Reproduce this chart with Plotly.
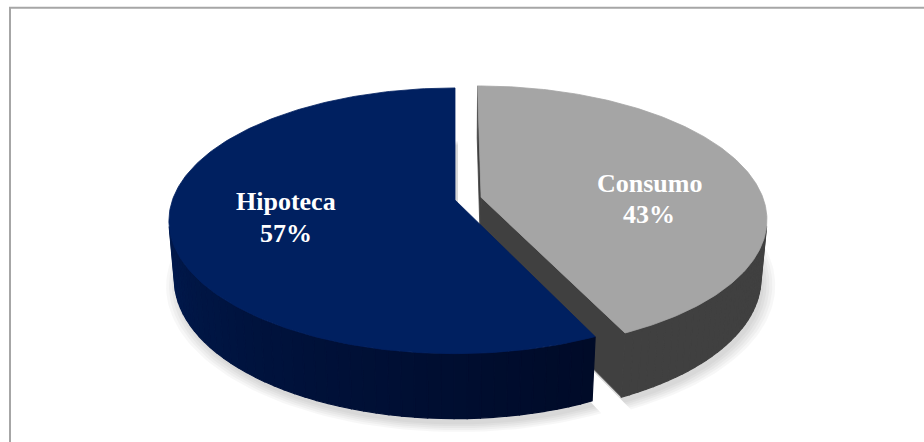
import numpy as np
import plotly.graph_objects as go

# ---- data -------------------------------------------------------------
categories = ["Consumo", "Hipoteca"]
shares = [43, 57]          # percent of total

# ---- styling ----------------------------------------------------------
TOP_COLOR = {"Consumo": "#A5A5A5", "Hipoteca": "#002060"}
SIDE_STOPS = {
    # (angle in degrees clockwise from 12 o'clock, colour) for the outer wall
    "Consumo": [(0, "#404040"), (360, "#404040")],
    "Hipoteca": [(150, "#000A26"), (215, "#00123C"), (262, "#001A4E"), (360, "#001A4E")],
}
CUT_COLOR = {"Consumo": "#404040", "Hipoteca": "#000A26"}
EXPLODE = {"Consumo": 0.095, "Hipoteca": 0.0}
LABEL_AT = {"Consumo": (649, 183, 214), "Hipoteca": (286, 201, 233)}  # x, name line, value line

W, H = 924, 442
CX, CY = 455, 200            # screen position of the pie centre
FOCAL = 1605                 # perspective focal length (px)
DIST = 5.68                  # camera distance in pie radii
ELEV = np.radians(27.3)      # camera elevation
THICK = 0.235                # pie height in pie radii
SA, CA = np.sin(ELEV), np.cos(ELEV)


def project(X, Y, Z):
    """Perspective projection of world points (X right, Y up, Z toward viewer)."""
    X, Y, Z = np.asarray(X, float), np.asarray(Y, float), np.asarray(Z, float)
    depth = DIST - Y * SA - Z * CA
    return CX + FOCAL * X / depth, CY - FOCAL * (Y * CA - Z * SA) / depth


def hex_rgb(h):
    h = h.lstrip("#")
    return np.array([int(h[i:i + 2], 16) for i in (0, 2, 4)], float)


def side_colour(name, deg):
    stops = SIDE_STOPS[name]
    for (a0, c0), (a1, c1) in zip(stops[:-1], stops[1:]):
        if a0 <= deg <= a1:
            t = 0 if a1 == a0 else (deg - a0) / (a1 - a0)
            c = hex_rgb(c0) * (1 - t) + hex_rgb(c1) * t
            return "rgb(%d,%d,%d)" % tuple(np.round(c))
    return stops[-1][1]


def poly(xs, ys, colour, width=1.0, line=None):
    return go.Scatter(
        x=list(xs) + [xs[0]], y=list(ys) + [ys[0]], mode="lines", fill="toself",
        fillcolor=colour, line=dict(color=line or colour, width=width),
        hoverinfo="skip", showlegend=False,
    )


# slice angles: clockwise from 12 o'clock
total = float(sum(shares))
bounds = np.concatenate([[0], np.cumsum(shares) / total * 360.0])
slices = []
for i, name in enumerate(categories):
    t0, t1 = np.radians(bounds[i]), np.radians(bounds[i + 1])
    mid = 0.5 * (t0 + t1)
    off = np.array([np.sin(mid), 0.0, -np.cos(mid)]) * EXPLODE[name]
    slices.append(dict(name=name, t0=t0, t1=t1, mid=mid, off=off, share=shares[i]))

cam = np.array([0.0, DIST * SA, DIST * CA])


def facing(point, normal):
    return np.dot(cam - point, normal) > 0


# draw farther slice first
def centroid_depth(s):
    c = s["off"] + 0.5 * np.array([np.sin(s["mid"]), 0, -np.cos(s["mid"])])
    return DIST - c[2] * CA

slices.sort(key=centroid_depth, reverse=True)

traces = []

# soft drop shadow under the pie
for s in slices:
    ox, _, oz = s["off"]
    th = np.linspace(s["t0"], s["t1"], 120)
    for k in range(5):
        r = 1.0 + 0.01 * k
        X = np.concatenate([[ox], ox + r * np.sin(th)])
        Z = np.concatenate([[oz], oz - r * np.cos(th)])
        sx, sy = project(X, np.full_like(X, -THICK - 0.01), Z)
        traces.append(poly(sx + 3, sy + 3, "rgba(0,0,0,0.03)", width=0))

for s in slices:
    name, (ox, oy, oz) = s["name"], s["off"]
    O = s["off"]

    # outer wall, as thin vertical strips
    th = np.linspace(s["t0"], s["t1"], 90)
    for a, b in zip(th[:-1], th[1:]):
        m = 0.5 * (a + b)
        n = np.array([np.sin(m), 0, -np.cos(m)])
        if not facing(O + n, n):
            continue
        X = ox + np.array([np.sin(a), np.sin(b), np.sin(b), np.sin(a)])
        Z = oz - np.array([np.cos(a), np.cos(b), np.cos(b), np.cos(a)])
        Y = np.array([0, 0, -THICK, -THICK])
        sx, sy = project(X, Y, Z)
        traces.append(poly(sx, sy, side_colour(name, np.degrees(m)), width=1.2))

    # radial cut faces
    for t, sign in ((s["t0"], -1), (s["t1"], 1)):
        n = np.array([np.sin(t + sign * np.pi / 2), 0, -np.cos(t + sign * np.pi / 2)])
        if not facing(O + 0.5 * np.array([np.sin(t), 0, -np.cos(t)]), n):
            continue
        X = ox + np.array([0, np.sin(t), np.sin(t), 0])
        Z = oz - np.array([0, np.cos(t), np.cos(t), 0])
        Y = np.array([0, 0, -THICK, -THICK])
        sx, sy = project(X, Y, Z)
        traces.append(poly(sx, sy, CUT_COLOR[name], width=0.8))

    # top face
    th = np.linspace(s["t0"], s["t1"], 200)
    X = np.concatenate([[ox], ox + np.sin(th)])
    Z = np.concatenate([[oz], oz - np.cos(th)])
    sx, sy = project(X, np.zeros_like(X), Z)
    traces.append(poly(sx, sy, TOP_COLOR[name], width=0.8))

fig = go.Figure(traces)

annotations = []
for s in slices:
    x, y_name, y_val = LABEL_AT[s["name"]]
    for txt, y in ((s["name"], y_name), ("%d%%" % s["share"], y_val)):
        annotations.append(dict(
            x=x, y=y, xref="x", yref="y", text="<b>%s</b>" % txt, showarrow=False,
            xanchor="center", yanchor="middle",
            font=dict(family="Liberation Serif", size=26, color="white"),
        ))

fig.update_layout(
    width=W, height=H, margin=dict(l=0, r=0, t=0, b=0),
    paper_bgcolor="white", plot_bgcolor="white",
    xaxis=dict(range=[0, W], visible=False, fixedrange=True),
    yaxis=dict(range=[H, 0], visible=False, fixedrange=True),
    annotations=annotations,
    shapes=[dict(type="rect", xref="x", yref="y", x0=10, y0=7.7, x1=W + 30, y1=H + 30,
                 line=dict(color="#A6A6A6", width=2), layer="above")],
    showlegend=False,
)

fig.write_html("out.html")
